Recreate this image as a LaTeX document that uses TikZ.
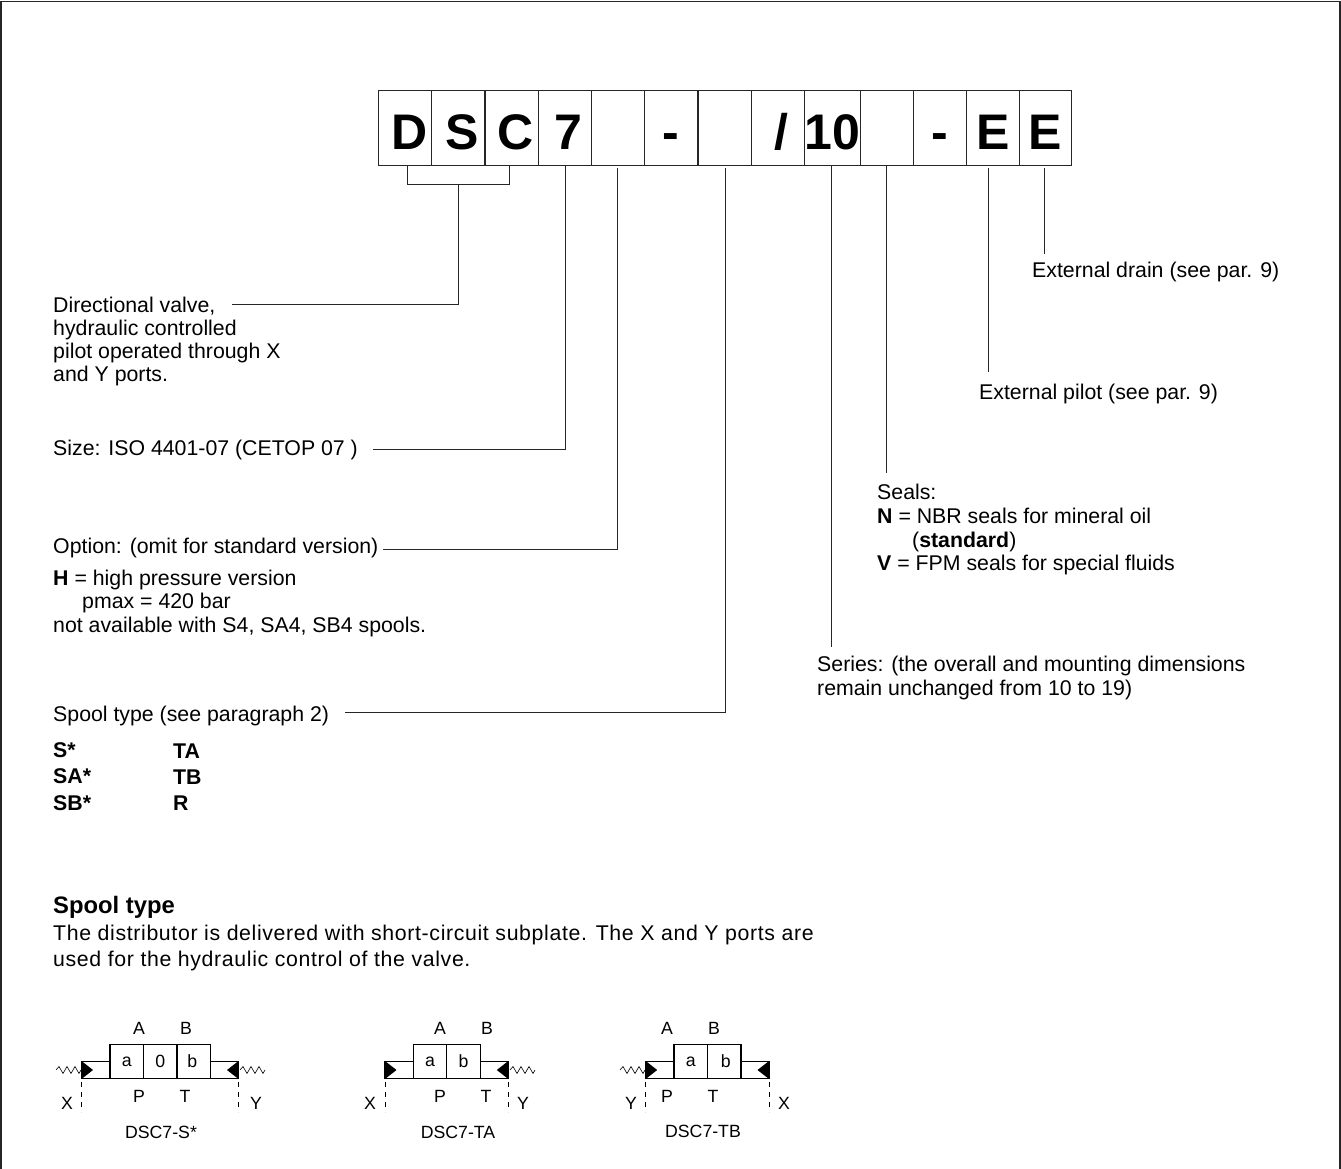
\documentclass[tikz,border=0pt]{standalone}
\usepackage{fontspec}
\setmainfont{Liberation Sans}
\usetikzlibrary{calc}
\definecolor{ln}{gray}{0.15}
\newcommand{\nudge}[2]{\hspace*{#1pt}#2}
\tikzset{
  x=1pt,y=-1pt,
  code/.style={draw=ln,line width=.9pt,outer sep=0pt,minimum width=53.2pt,minimum height=74.5pt,inner sep=0pt,anchor=north west,font=\fontsize{50}{50}\selectfont\bfseries,text height=44pt,text depth=0pt},
  leader/.style={draw=ln,line width=.9pt},
  txt/.style={anchor=north west,inner sep=0pt,align=left,font=\fontsize{21.3}{23}\selectfont},
  small/.style={inner sep=0pt,font=\fontsize{17.7}{18}\selectfont},
  cell/.style={draw=black,line width=1.2pt,outer sep=0pt,minimum width=33.5pt,minimum height=33.5pt,inner sep=0pt,anchor=north west,font=\fontsize{17.7}{18}\selectfont},
  pipe/.style={draw=black,line width=1.2pt},
  drainl/.style={draw=black,line width=.7pt,dash pattern=on 5pt off 5pt},
  spr/.style={draw=black,line width=.6pt},
}
\newcommand{\zigr}[2]{\draw[spr] (#1,#2) -- ++(3,-3.5) -- ++(4,7) -- ++(4,-7) -- ++(4,7) -- ++(4,-7) -- ++(4,7) -- ++(2,-3.5);}
\begin{document}
\begin{tikzpicture}
\useasboundingbox (0,0) rectangle (1341,1169);
\draw[line width=1.2pt,draw=ln] (1,1169) -- (1,1.5) -- (1340,1.5) -- (1340,1169);
% code boxes
\node[code] (b1) at (378.5,90.5) {\nudge{8}{D}};
\node[code] (b2) at (431.7,90.5) {\nudge{8}{S}};
\node[code] (b3) at (485,90.5) {\nudge{8}{C}};
\node[code] (b4) at (538.2,90.5) {\nudge{8}{7}};
\node[code] (b5) at (591.4,90.5) {};
\node[code] (b6) at (644.6,90.5) {-};
\node[code] (b7) at (698,90.5) {};
\node[code] (b8) at (751,90.5) {\nudge{7}{/}};
\node[code,minimum width=56pt] (b9) at (804,90.5) {10};
\node[code] (b10) at (860,90.5) {};
\node[code] (b11) at (913,90.5) {-};
\node[code] (b12) at (966.5,90.5) {E};
\node[code,minimum width=52pt] (b13) at (1019.5,90.5) {E};
% labels
\node[txt] (t1) at (53,296.7) {Directional valve,\\hydraulic controlled\\pilot operated through X\\and Y ports.};
\node[txt] (t2) at (53,440) {Size: ISO 4401-07 (CETOP 07 )};
\node[txt] (t3) at (53,537.7) {Option: (omit for standard version)};
\node[txt,font=\fontsize{21.3}{23.8}\selectfont] (t4) at (53,569.4) {\textbf{H} = high pressure version\\\hspace{29pt}pmax = 420 bar\\not available with S4, SA4, SB4 spools.};
\node[txt] (t5) at (53,706) {Spool type (see paragraph 2)};
\node[txt,font=\fontsize{21.3}{26.2}\selectfont\bfseries] (t6) at (53,742.7) {S*\\SA*\\SB*};
\node[txt,font=\fontsize{21.3}{26.2}\selectfont\bfseries] (t7) at (173,743.5) {TA\\TB\\R};
\node[txt,font=\fontsize{21.3}{24.3}\selectfont] (t8) at (817,656) {Series: (the overall and mounting dimensions\\remain unchanged from 10 to 19)};
\node[txt] (t9) at (877,483.7) {Seals:};
\node[txt,font=\fontsize{21.3}{23.7}\selectfont] (t9b) at (877,507.7) {\textbf{N} = NBR seals for mineral oil\\\hspace{35pt}(\textbf{standard})\\\textbf{V} = FPM seals for special fluids};
\node[txt] (t10) at (979,384) {External pilot (see par. 9)};
\node[txt] (t11) at (1032,262) {External drain (see par. 9)};
\node[txt,font=\fontsize{23.8}{23}\selectfont\bfseries] (h) at (53,896) {Spool type};
\node[txt,font=\fontsize{21.3}{26}\selectfont\addfontfeature{LetterSpace=3}] (p) at (53,925) {The distributor is delivered with short-circuit subplate. The X and Y ports are\\used for the hydraulic control of the valve.};
% leaders
\coordinate (c1) at (407,184.5);
\coordinate (c2) at (509,184.5);
\coordinate (c3) at (458.5,184.5);
\coordinate (e1) at (232,304.5);
\coordinate (e2) at (373,449.5);
\coordinate (e3) at (383,549.5);
\coordinate (e4) at (345,712.5);
\draw[leader] (b1.south -| c1) -- (c1) -- (c2) -- (b3.south -| c2);
\draw[leader] (c3) |- (e1);
\draw[leader] (b4.south -| 565.5,0) |- (e2);
\draw[leader] (617.5,168) |- (e3);
\draw[leader] (725.5,168) |- (e4);
\coordinate (e8) at (831.5,646.5);
\coordinate (e9) at (886.5,473);
\coordinate (e10) at (988.5,372);
\coordinate (e11) at (1044.5,254);
\draw[leader] (b9.south -| e8) -- (e8);
\draw[leader] (b10.south -| e9) -- (e9);
\draw[leader] (988.5,168) -- (e10);
\draw[leader] (1044.5,168) -- (e11);
% valve S
\node[cell] (s1) at (110,1044.7) {\raisebox{-2pt}{a}};
\node[cell] (s2) at (143.5,1044.7) {\raisebox{1pt}{0}};
\node[cell] (s3) at (177,1044.7) {\raisebox{-1pt}{\hspace*{-3pt}b}};
\draw[pipe] (s1.west |- 0,1061.5) -- (81.5,1061.5) |- (s1.south west);
\draw[pipe] (s3.east |- 0,1061.5) -- (238.5,1061.5) |- (s3.south east);
\fill (81.5,1061) -- (93,1070) -- (81.5,1079) -- cycle;
\fill (238.5,1061) -- (227,1070) -- (238.5,1079) -- cycle;
\zigr{56}{1070}\zigr{240}{1070}
\draw[drainl] (81.5,1082) -- (81.5,1112);
\draw[drainl] (238.5,1082) -- (238.5,1112);
\node[small] at (139,1028) {A};
\node[small] at (186,1028) {B};
\node[small] at (139,1096) {P};
\node[small] at (185,1096) {T};
\node[small] at (67,1103) {X};
\node[small] at (256,1103) {Y};
\node[small] at (161,1132) {DSC7-S*};
% valve TA
\node[cell] (ta1) at (413.3,1044.7) {a};
\node[cell] (ta2) at (446.8,1044.7) {\raisebox{1pt}{b}};
\draw[pipe] (ta1.west |- 0,1061.5) -- (385,1061.5) |- (ta1.south west);
\draw[pipe] (ta2.east |- 0,1061.5) -- (508.3,1061.5) |- (ta2.south east);
\fill (385,1061) -- (396.5,1070) -- (385,1079) -- cycle;
\fill (508.3,1061) -- (496.8,1070) -- (508.3,1079) -- cycle;
\zigr{510}{1070}
\draw[drainl] (385,1082) -- (385,1112);
\draw[drainl] (508.3,1082) -- (508.3,1112);
\node[small] at (440,1028) {A};
\node[small] at (487,1028) {B};
\node[small] at (440,1096) {P};
\node[small] at (486,1096) {T};
\node[small] at (370,1103) {X};
\node[small] at (523,1103) {Y};
\node[small] at (458,1132) {DSC7-TA};
% valve TB
\node[cell] (tb1) at (674,1044.7) {\raisebox{-2pt}{a}};
\node[cell] (tb2) at (707.5,1044.7) {\raisebox{-1pt}{\hspace*{3pt}b}};
\draw[pipe] (tb1.west |- 0,1061.5) -- (645.7,1061.5) |- (tb1.south west);
\draw[pipe] (tb2.east |- 0,1061.5) -- (769,1061.5) |- (tb2.south east);
\fill (645.7,1061) -- (657.2,1070) -- (645.7,1079) -- cycle;
\fill (769,1061) -- (757.5,1070) -- (769,1079) -- cycle;
\zigr{620}{1070}
\draw[drainl] (645.7,1082) -- (645.7,1112);
\draw[drainl] (769,1082) -- (769,1112);
\node[small] at (667,1028) {A};
\node[small] at (714,1028) {B};
\node[small] at (667,1096) {P};
\node[small] at (713,1096) {T};
\node[small] at (631,1103) {Y};
\node[small] at (784,1103) {X};
\node[small] at (703,1131) {DSC7-TB};
\end{tikzpicture}
\end{document}
